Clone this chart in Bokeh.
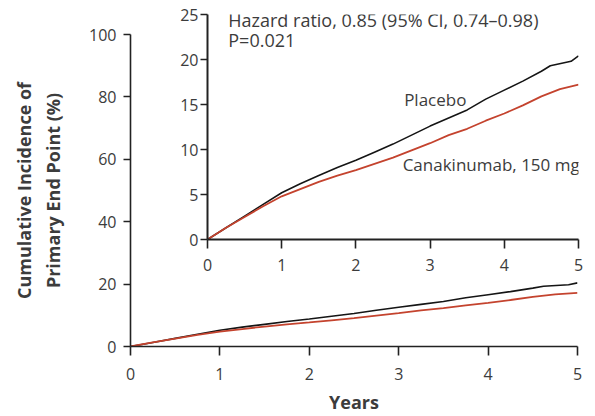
from bokeh.plotting import figure
from bokeh.models import Label, Range1d, FixedTicker
from bokeh.layouts import column
from bokeh.embed import file_html
from bokeh.resources import INLINE

# ---- data ----
placebo_years = [0, 0.25, 0.5, 0.75, 1.0, 1.25, 1.5, 1.75, 2.0, 2.25, 2.5, 2.75,
                 3.0, 3.25, 3.5, 3.75, 4.0, 4.25, 4.5, 4.62, 4.9, 5.0]
placebo_pct = [0, 1.3, 2.6, 3.9, 5.2, 6.2, 7.1, 8.0, 8.8, 9.7, 10.6, 11.6,
               12.6, 13.5, 14.4, 15.6, 16.6, 17.6, 18.7, 19.3, 19.8, 20.4]
cana_years = [0, 0.25, 0.5, 0.75, 1.0, 1.25, 1.5, 1.75, 2.0, 2.25, 2.5, 2.75,
              3.0, 3.25, 3.5, 3.75, 4.0, 4.25, 4.5, 4.75, 5.0]
cana_pct = [0, 1.3, 2.5, 3.7, 4.8, 5.6, 6.4, 7.1, 7.7, 8.4, 9.1, 9.9,
            10.7, 11.6, 12.3, 13.2, 14.0, 14.9, 15.9, 16.7, 17.2]

x_ticks = [0, 1, 2, 3, 4, 5]
main_y_ticks = [0, 20, 40, 60, 80, 100]
inset_y_ticks = [0, 5, 10, 15, 20, 25]

x_label = "Years"
y_label = "Cumulative Incidence of\nPrimary End Point (%)"
hr_text = "Hazard ratio, 0.85 (95% CI, 0.74\u20130.98)"
p_text = "P=0.021"
placebo_name = "Placebo"
cana_name = "Canakinumab, 150 mg"

FONT = "Open Sans"
TXT = "#3c3c3c"
AX = "#222222"
BLACK = "#151515"
RED = "#c4432e"


def style_axes(fig, yticks, tick_fs):
    for ax in (fig.xaxis[0], fig.yaxis[0]):
        ax.axis_line_color = AX
        ax.axis_line_width = 1.6
        ax.major_tick_line_color = AX
        ax.major_tick_line_width = 1.6
        ax.major_tick_in = 0
        ax.minor_tick_line_color = None
        ax.major_label_text_font = FONT
        ax.major_label_text_font_size = tick_fs
        ax.major_label_text_color = TXT
        ax.axis_label_text_font = FONT
        ax.axis_label_text_font_style = "bold"
        ax.axis_label_text_color = TXT
    fig.xaxis[0].ticker = FixedTicker(ticks=x_ticks)
    fig.yaxis[0].ticker = FixedTicker(ticks=yticks)
    fig.xgrid.grid_line_color = None
    fig.ygrid.grid_line_color = None
    fig.outline_line_color = None


# ---- main plot ----
p = figure(width=590, height=416, x_range=Range1d(0, 5), y_range=Range1d(0, 100),
           output_backend="svg", toolbar_location=None,
           min_border_left=130, min_border_right=13, min_border_top=34, min_border_bottom=70)
style_axes(p, main_y_ticks, "16px")
p.xaxis[0].major_tick_out = 9
p.xaxis[0].major_label_standoff = 12
p.yaxis[0].major_tick_out = 7
p.yaxis[0].major_label_standoff = 7
p.xaxis[0].axis_label = x_label
p.xaxis[0].axis_label_text_font_size = "18px"
p.xaxis[0].axis_label_standoff = 7
p.yaxis[0].axis_label = y_label
p.yaxis[0].axis_label_text_font_size = "18px"
p.yaxis[0].axis_label_standoff = 21
p.line(placebo_years, placebo_pct, line_color=BLACK, line_width=1.6)
p.line(cana_years, cana_pct, line_color=RED, line_width=1.8)

# ---- inset (overlaid on the main plot) ----
q = figure(width=514, height=275, x_range=Range1d(0, 5), y_range=Range1d(0, 25),
           output_backend="svg", toolbar_location=None,
           min_border_left=130, min_border_right=13, min_border_top=14, min_border_bottom=36)
style_axes(q, inset_y_ticks, "16px")
q.xaxis[0].axis_line_width = 2
q.yaxis[0].axis_line_width = 2
q.xaxis[0].major_tick_out = 9
q.xaxis[0].major_label_standoff = 10
q.yaxis[0].major_tick_out = 7
q.yaxis[0].major_label_standoff = 2
q.background_fill_alpha = 0
q.border_fill_alpha = 0
q.line(placebo_years, placebo_pct, line_color=BLACK, line_width=1.6)
q.line(cana_years, cana_pct, line_color=RED, line_width=1.8)

for x, y, t, fs in [(0.28, 24.4, hr_text, "18px"), (0.28, 22.2, p_text, "18px"),
                    (2.65, 15.6, placebo_name, "17px"), (2.63, 8.3, cana_name, "17px")]:
    q.add_layout(Label(x=x, y=y, text=t, text_font=FONT, text_font_size=fs,
                       text_color=TXT, text_baseline="middle", text_align="left"))

q.margin = (-416, 0, 0, 77)

layout = column(p, q, spacing=0)
open("out.html", "w").write(file_html(layout, INLINE))
